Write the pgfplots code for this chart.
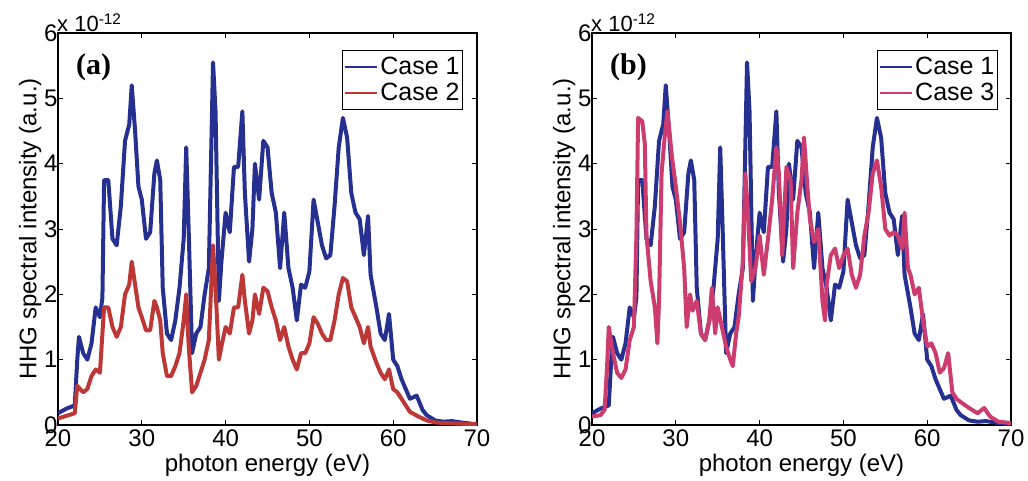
\documentclass[border=0pt]{standalone}
\usepackage{pgfplots}
\pgfplotsset{compat=1.18}
\usepackage{fontspec}
\setmainfont{Liberation Sans}
\newfontfamily\serifbf{Liberation Serif}
\definecolor{cblue}{RGB}{38,48,145}
\definecolor{cred}{RGB}{190,55,55}
\definecolor{cpink}{RGB}{205,60,110}

\pgfplotsset{
  hhg/.style={
    scale only axis, width=419pt, height=392pt,
    xmin=20, xmax=70, ymin=0, ymax=6,
    xtick={20,30,...,70}, ytick={0,1,...,6},
    tick align=inside, major tick length=5pt,
    tick style={black, line width=1pt},
    axis line style={line width=1.2pt},
    clip mode=individual,
    every tick label/.append style={font=\fontsize{24}{26}\selectfont},
    /pgf/number format/assume math mode=true,
    xticklabel style={yshift=-4pt, inner ysep=1pt},
    yticklabel style={xshift=3pt, inner ysep=1pt},
    xlabel={photon energy (eV)},
    ylabel={HHG spectral intensity (a.u.)},
    label style={font=\fontsize{24}{26}\selectfont},
    xlabel style={yshift=-2pt},
    ylabel style={yshift=-4pt},
    legend style={font=\fontsize{25}{27}\selectfont, draw=black, line width=1.2pt,
      inner xsep=1pt, inner ysep=5pt, row sep=3pt, anchor=north east, cells={anchor=west}},
    legend image code/.code={\draw[#1, line width=2.5pt] (0pt,0pt) -- (32pt,0pt);},
  }
}

\pgfplotstableread{
x y
20 0.18
21 0.25
22 0.3
22.3 1.0
22.5 1.35
23 1.1
23.5 1.0
24 1.25
24.5 1.8
25 1.65
25.3 1.95
25.5 3.75
26 3.75
26.5 2.85
27 2.75
27.5 3.35
28 4.35
28.5 4.6
28.8 5.2
29.2 4.5
29.6 3.65
30 3.45
30.5 2.85
31 2.95
31.5 3.85
31.8 4.05
32.2 3.75
32.5 2.1
33 1.4
33.5 1.3
34 1.6
34.5 2.1
35 2.85
35.3 4.25
35.6 2.95
36 1.1
36.5 1.4
37 1.5
37.5 2.0
38 2.4
38.5 5.55
38.8 4.8
39.2 1.9
39.5 2.5
40 3.25
40.5 2.95
41 3.95
41.5 3.95
42 4.8
42.3 3.55
42.8 2.5
43.2 3.0
43.5 4.0
44 3.45
44.5 4.35
45 4.25
45.5 3.55
46 3.25
46.5 2.4
47 3.25
47.5 2.4
48 2.1
48.5 1.6
49 2.15
49.5 2.1
50 2.35
50.5 3.45
51 3.1
51.5 2.75
52 2.55
52.5 2.6
53 3.35
53.5 4.25
54 4.7
54.5 4.4
55 3.55
55.5 3.25
56 3.15
56.5 2.6
57 3.2
57.3 2.3
58 1.8
58.5 1.4
59 1.3
59.5 1.7
60 1.0
60.5 0.9
61 0.7
62 0.4
62.8 0.45
63.5 0.23
64 0.15
65 0.07
66 0.05
67 0.06
68 0.04
70 0.01
}\caseone

\pgfplotstableread{
x y
20 0.1
21 0.14
22 0.18
22.3 0.6
23 0.5
23.5 0.55
24 0.75
24.5 0.85
25 0.8
25.5 1.8
26 1.8
26.5 1.5
27 1.35
27.5 1.5
28 2.0
28.5 2.15
28.8 2.5
29.2 2.15
29.6 1.8
30 1.65
30.5 1.45
31 1.45
31.5 1.9
31.8 1.8
32.2 1.6
32.5 1.1
33 0.75
33.5 0.75
34 0.9
34.5 1.1
35 1.6
35.3 2.0
35.6 1.2
36 0.5
36.5 0.6
37 0.8
37.5 1.0
38 1.3
38.5 2.75
38.8 2.1
39.2 1.0
39.5 1.2
40 1.5
40.5 1.4
41 1.8
41.5 1.8
42 2.3
42.3 1.9
42.8 1.4
43.2 1.6
43.5 2.0
44 1.7
44.5 2.1
45 2.05
45.5 1.8
46 1.6
46.5 1.3
47 1.5
47.5 1.2
48 1.0
48.5 0.85
49 1.1
49.5 1.1
50 1.25
50.5 1.65
51 1.55
51.5 1.4
52 1.3
52.5 1.3
53 1.6
53.5 2.0
54 2.25
54.5 2.2
55 1.8
55.5 1.65
56 1.5
56.5 1.25
57 1.5
57.3 1.2
58 0.95
58.5 0.8
59 0.7
59.5 0.85
60 0.55
60.5 0.5
61 0.4
62 0.2
63 0.13
64 0.07
65 0.04
66 0.03
70 0.01
}\casetwo

\pgfplotstableread{
x y
20 0.13
21 0.15
21.5 0.23
21.8 0.9
22 1.5
22.5 1.1
23 0.8
23.5 0.72
24 0.85
24.5 1.3
25 1.5
25.3 2.9
25.5 4.7
26 4.65
26.3 4.3
26.5 2.9
27 2.2
27.5 1.8
27.8 1.25
28 1.9
28.3 3.85
28.7 4.45
29 4.8
29.5 4.15
30 3.65
30.5 3.1
31 2.4
31.3 1.5
31.7 2.0
32 1.75
32.5 1.9
33 1.4
33.5 1.3
34 1.6
34.3 2.1
34.7 1.4
35 1.8
35.5 1.5
36 1.2
36.5 1.0
36.8 0.9
37.2 1.4
37.5 1.65
38 2.5
38.3 3.85
38.6 3.25
39 2.2
39.5 2.4
40 2.9
40.5 2.3
41 2.85
41.5 3.45
42 4.25
42.3 3.85
42.7 2.6
43.2 3.95
43.7 3.75
44 2.4
44.5 3.25
45 3.75
45.3 4.4
45.7 3.65
46 3.15
46.5 2.8
47 3.0
47.5 1.9
47.8 1.6
48 2.15
48.5 2.6
49 2.7
49.5 2.4
50 2.6
50.5 2.7
51 2.3
51.5 2.1
52 2.3
52.5 2.9
53 3.25
53.5 3.85
54 4.05
54.5 3.65
55 3.0
55.5 2.9
56 2.95
56.5 2.9
57 2.7
57.3 3.25
57.7 2.4
58 2.3
58.5 2.0
59 2.1
59.5 1.6
60 1.2
60.5 1.25
61 1.1
61.5 0.8
62 0.87
62.5 1.1
63 0.5
63.5 0.4
64 0.35
65 0.26
66 0.18
66.8 0.26
67.5 0.13
68.5 0.05
70 0.03
}\casethree

\begin{document}
\begin{tikzpicture}[x=1pt,y=1pt]
\useasboundingbox (0,0) rectangle (1028,480);
\begin{axis}[hhg, at={(58pt,55pt)}, anchor=south west,
  legend style={at={(rel axis cs:0.967,0.957)}}]
\addplot[cblue, line width=4pt, line join=round] table {\caseone};
\addlegendentry{Case 1}
\addplot[cred, line width=4pt, line join=round] table {\casetwo};
\addlegendentry{Case 2}
\node[anchor=south west, inner sep=1pt, xshift=-2pt, font=\fontsize{22}{24}\selectfont] at (rel axis cs:0,1) {x 10\textsuperscript{-12}};
\node[anchor=north west, font=\serifbf\bfseries\fontsize{30}{32}\selectfont] at (rel axis cs:0.035,0.955) {(a)};
\end{axis}
\begin{axis}[hhg, at={(592pt,55pt)}, anchor=south west,
  legend style={at={(rel axis cs:0.969,0.957)}}]
\addplot[cblue, line width=4pt, line join=round] table {\caseone};
\addlegendentry{Case 1}
\addplot[cpink, line width=4pt, line join=round] table {\casethree};
\addlegendentry{Case 3}
\node[anchor=south west, inner sep=1pt, xshift=-2pt, font=\fontsize{22}{24}\selectfont] at (rel axis cs:0,1) {x 10\textsuperscript{-12}};
\node[anchor=north west, font=\serifbf\bfseries\fontsize{30}{32}\selectfont] at (rel axis cs:0.035,0.955) {(b)};
\end{axis}
\end{tikzpicture}
\end{document}
